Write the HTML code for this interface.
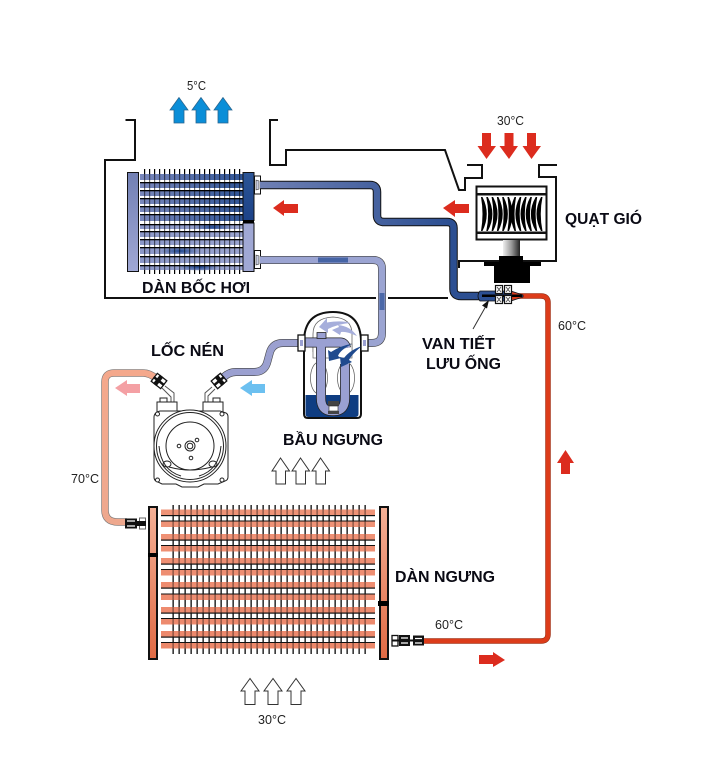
<!DOCTYPE html>
<html>
<head>
<meta charset="utf-8">
<style>
html,body{margin:0;padding:0;background:#fff;width:701px;height:768px;overflow:hidden}
svg{display:block}
text{font-family:"Liberation Sans",sans-serif;fill:#111}
.l{font-size:16px;font-weight:bold;fill:#0a0a14}
.t{font-size:13px;fill:#222}
</style>
</head>
<body>
<svg width="701" height="768" viewBox="0 0 701 768" xmlns="http://www.w3.org/2000/svg">
<defs>
<linearGradient id="pipeA" x1="260" x2="450" y1="0" y2="0" gradientUnits="userSpaceOnUse"><stop offset="0" stop-color="#6f80b4"/><stop offset="1" stop-color="#2c4f92"/></linearGradient>
<linearGradient id="tank1" x1="0" x2="0" y1="0" y2="1"><stop offset="0" stop-color="#7280b4"/><stop offset="1" stop-color="#a0a8d4"/></linearGradient>
<linearGradient id="tank2" x1="0" x2="0" y1="0" y2="1"><stop offset="0" stop-color="#2c5596"/><stop offset="1" stop-color="#1c4288"/></linearGradient>
<linearGradient id="tank3" x1="0" x2="0" y1="0" y2="1"><stop offset="0" stop-color="#f4b096"/><stop offset="1" stop-color="#e06a44"/></linearGradient>
<linearGradient id="rowsE" x1="0" x2="1" y1="0" y2="0"><stop offset="0" stop-color="#7a88bc"/><stop offset="1" stop-color="#2f5496"/></linearGradient>
<linearGradient id="rowsF" x1="0" x2="1" y1="0" y2="0"><stop offset="0" stop-color="#8c98c8"/><stop offset="1" stop-color="#9aa4d0"/></linearGradient>
<linearGradient id="hot" x1="0" x2="0" y1="370" y2="525" gradientUnits="userSpaceOnUse"><stop offset="0" stop-color="#f4a88c"/><stop offset="1" stop-color="#eea88e"/></linearGradient>
<linearGradient id="shaft" x1="0" x2="1" y1="0" y2="0"><stop offset="0" stop-color="#eee"/><stop offset="0.5" stop-color="#999"/><stop offset="1" stop-color="#222"/></linearGradient>
<radialGradient id="spot"><stop offset="0" stop-color="#1c4590"/><stop offset="1" stop-color="#1c4590" stop-opacity="0"/></radialGradient>
<pattern id="finE" x="144" y="0" width="5" height="10" patternUnits="userSpaceOnUse"><rect width="1.200" height="10" fill="#000"/></pattern>
<pattern id="finC" x="172.500" y="0" width="6" height="10" patternUnits="userSpaceOnUse"><rect width="1.200" height="10" fill="#000"/></pattern>
</defs>

<!-- housing -->
<g fill="none" stroke="#111" stroke-width="2">
<path d="M125.500 120H135V160H105V298H376"/>
<path d="M388 298H448"/>
<path d="M278 120H270V165H286V150H445L459 190H465V178H482V165H467"/>
<path d="M557 165H539V177H556V261H459V268"/>
</g>

<!-- evaporator core -->
<rect x="144" y="169" width="97" height="105" fill="url(#finE)"/>
<rect x="140" y="174" width="103" height="48" fill="url(#rowsE)"/>
<rect x="140" y="222" width="103" height="48" fill="url(#rowsF)"/>
<ellipse cx="213" cy="227" rx="20" ry="4" fill="url(#spot)"/>
<ellipse cx="180" cy="251" rx="20" ry="4" fill="url(#spot)"/>
<ellipse cx="199" cy="267" rx="20" ry="4" fill="url(#spot)"/>
<g fill="#fff">
<rect x="140" y="180" width="103" height="2"/><rect x="140" y="188" width="103" height="2"/><rect x="140" y="196" width="103" height="2"/><rect x="140" y="204" width="103" height="2"/><rect x="140" y="212" width="103" height="2"/><rect x="140" y="221" width="103" height="3"/><rect x="140" y="229" width="103" height="2"/><rect x="140" y="237" width="103" height="2"/><rect x="140" y="245" width="103" height="2"/><rect x="140" y="254" width="103" height="2"/><rect x="140" y="263" width="103" height="2"/>
</g>
<g fill="#000">
<rect x="140" y="182" width="103" height="1.300"/><rect x="140" y="190" width="103" height="1.300"/><rect x="140" y="198" width="103" height="1.300"/><rect x="140" y="206" width="103" height="1.300"/><rect x="140" y="214" width="103" height="1.300"/><rect x="140" y="224" width="103" height="1.300"/><rect x="140" y="231" width="103" height="1.300"/><rect x="140" y="239" width="103" height="1.300"/><rect x="140" y="247" width="103" height="1.300"/><rect x="140" y="256" width="103" height="1.300"/><rect x="140" y="265" width="103" height="1.300"/>
</g>
<rect x="144" y="174" width="97" height="96" fill="url(#finE)" opacity=".55"/>
<rect x="127.500" y="172.500" width="11" height="99" fill="url(#tank1)" stroke="#111"/>
<rect x="243" y="172.500" width="11" height="48" fill="url(#tank2)" stroke="#111"/>
<rect x="243" y="223" width="11" height="48.500" fill="#a0a8d4" stroke="#111"/>
<rect x="243" y="220" width="11" height="3.500" fill="#000"/>
<g fill="#fff" stroke="#111"><rect x="254.500" y="176" width="6" height="18"/><rect x="254.500" y="250.500" width="6" height="18"/></g>
<g fill="#c8cce0" stroke="#333" stroke-width=".6"><path d="M256 180l3 1v8l-3 1z"/><path d="M256 255l3 1v8l-3 1z"/></g>

<!-- evaporator outlet pipe -->
<g fill="none">
<path d="M260 185H370Q377 185 377 192V215Q377 222 384 222H447Q453.500 222 453.500 228V289Q453.500 296 461 296H482" stroke="#111" stroke-width="8.500"/>
<path d="M260 185H370Q377 185 377 192V215Q377 222 384 222H447Q453.500 222 453.500 228V289Q453.500 296 461 296H482" stroke="url(#pipeA)" stroke-width="6.500"/>
<path d="M260 260H373Q382 260 382 269V333Q382 343 372 343H364" stroke="#444" stroke-width="8"/>
<path d="M260 260H373Q382 260 382 269V333Q382 343 372 343H364" stroke="#9ba4d2" stroke-width="6.800"/>
<path d="M318 260H348" stroke="#2a4f96" stroke-width="5" opacity=".75"/>
<path d="M382 293V310" stroke="#2a4f96" stroke-width="5" opacity=".7"/>
</g>

<!-- compressor inlet pipe -->
<g fill="none">
<path d="M300 343H283Q273 343 270 352L267 363Q264 372 254 372H236Q228 372 222 379" stroke="#444" stroke-width="8"/>
<path d="M300 343H283Q273 343 270 352L267 363Q264 372 254 372H236Q228 372 222 379" stroke="#9ba0d0" stroke-width="6.800"/>
<!-- hot pipe -->
<path d="M157 379Q150 373 143 373H114Q105 373 105 382V510Q105 522 118 522H127" stroke="#777" stroke-width="7.500"/>
<path d="M157 379Q150 373 143 373H114Q105 373 105 382V510Q105 522 118 522H127" stroke="url(#hot)" stroke-width="6.200"/>
<!-- red pipe -->
<path d="M510 296H541Q548 296 548 303V634Q548 641 541 641H420" stroke="#8a2a12" stroke-width="5.500"/>
<path d="M510 296H541Q548 296 548 303V634Q548 641 541 641H420" stroke="#dc3c1a" stroke-width="4.500"/>
</g>

<!-- compressor -->
<g fill="#fff" stroke="#222" stroke-width="1">
<path d="M165 386L174 393V402M162 388L171 397V402" fill="none" stroke="#555"/>
<path d="M212 387L205 393V402M215 389L208 396V402" fill="none" stroke="#555"/>
<rect x="157" y="402" width="20" height="10"/>
<rect x="203" y="402" width="20" height="10"/>
<rect x="160" y="398" width="7" height="4"/>
<rect x="213" y="398" width="7" height="4"/>
<path d="M160 411H220L226 413Q228 414 228 417V477Q228 480 225 481L218 484L204 484L198 487H182L176 484H162L156 481Q154 480 154 477V417Q154 414 157 412Z"/>
<circle cx="190" cy="446" r="36"/>
<circle cx="190" cy="446" r="33.500"/>
<circle cx="190" cy="446" r="24"/>
<circle cx="190" cy="446" r="5"/><circle cx="190" cy="446" r="2.800"/>
<circle cx="179" cy="446" r="1.800"/><circle cx="197" cy="440" r="1.800"/><circle cx="191" cy="458" r="1.800"/>
<circle cx="157.500" cy="414" r="2"/><circle cx="222" cy="414" r="2"/><circle cx="157.500" cy="480" r="2"/><circle cx="222" cy="480" r="2"/>
<ellipse cx="167" cy="464" rx="4" ry="3"/><ellipse cx="213" cy="464" rx="4" ry="3"/>
<path d="M169 467Q180 470 190 470Q200 470 212 467" fill="none"/>
<path d="M159 446Q161 470 181 476M221 446Q219 470 199 476" fill="none"/>
</g>
<g stroke="#111" stroke-width="1.300">
<g transform="rotate(38 159 381)"><rect x="153" y="376" width="12" height="10" fill="#fff"/><rect x="156.500" y="376" width="3" height="10" fill="#111"/><rect x="153" y="380.500" width="12" height="1.200" fill="#111"/></g>
<g transform="rotate(-40 219 381)"><rect x="213" y="376" width="12" height="10" fill="#fff"/><rect x="218.500" y="376" width="3" height="10" fill="#111"/><rect x="213" y="380.500" width="12" height="1.200" fill="#111"/></g>
</g>

<!-- accumulator -->
<path d="M304 342Q304 312 333 312Q361 312 361 342V414Q361 418 357 418H308Q304 418 304 414Z" fill="#fff" stroke="#111" stroke-width="2"/>
<path d="M313 352V334Q313 318 333 317Q352 318 352 334V352" fill="none" stroke="#666" stroke-width=".8"/>
<rect x="313" y="344" width="39" height="14" fill="#fff" stroke="#666" stroke-width=".7"/>
<ellipse cx="319" cy="378" rx="8.500" ry="16" fill="#fff" stroke="#555" stroke-width=".7"/>
<ellipse cx="346" cy="378" rx="8.500" ry="16" fill="#fff" stroke="#555" stroke-width=".7"/>
<path d="M305.500 395H358.500V414Q358.500 417 355 417H309Q305.500 417 305.500 414Z" fill="#0f3d82"/>
<g fill="none">
<path d="M305 342.500H340Q345 342.500 346 348" stroke="#222" stroke-width="10"/>
<path d="M321 343V398Q321 411 332 411H334Q345 411 345 398V364" stroke="#222" stroke-width="10"/>
<path d="M321 343V398Q321 411 332 411H334Q345 411 345 398V364" stroke="#9aa0d2" stroke-width="8.500"/>
<path d="M305 342.500H340Q345 342.500 346 348" stroke="#9aa0d2" stroke-width="8.500"/>
</g>
<rect x="328" y="401" width="11" height="5" fill="#444"/>
<rect x="329" y="406" width="9" height="5" fill="#fff" stroke="#222" stroke-width=".6"/>
<rect x="328" y="411" width="11" height="3" fill="#444"/>
<rect x="317" y="332.500" width="9" height="6" fill="#9aa0d2" stroke="#222" stroke-width=".8"/>
<path d="M319 327L327 318V322.500Q342 320 350 323Q338 324 328 329V333Z" fill="#a6aedb"/>
<path d="M332 330L339 327L338 325Q350 326 357 336Q346 331 341 332L340 335Z" fill="#a6aedb"/>
<path d="M329 361L328 350L331 352Q342 345 352 344Q340 350 338 356L341 358Z" fill="#1f4a8e"/>
<path d="M341 367L340 357L344 358Q350 350 362 346Q352 354 349 360L352 362Z" fill="#1f4a8e"/>
<g fill="#fff" stroke="#111" stroke-width="1.300">
<rect x="298" y="335" width="7" height="16"/>
<rect x="361" y="335" width="7" height="16"/>
</g>
<rect x="300" y="340" width="3" height="6" fill="#9aa0d2"/>
<rect x="363" y="340" width="3" height="6" fill="#9aa0d2"/>

<!-- fan -->
<rect x="476.500" y="186.500" width="70" height="53" fill="#fff" stroke="#111" stroke-width="2"/>
<rect x="476" y="193" width="71" height="2.500" fill="#111"/>
<rect x="476" y="231.500" width="71" height="2.500" fill="#111"/>
<g fill="#000">
<path d="M481 197Q484 214 481 231H482.500Q491 214 482.500 197Z"/>
<path d="M486.300 197Q490 214 486.300 231H487.800Q497 214 487.800 197Z"/>
<path d="M491.600 197Q495 214 491.600 231H493.100Q502 214 493.100 197Z"/>
<path d="M496.900 197Q500 214 496.900 231H498.400Q507 214 498.400 197Z"/>
<path d="M502.200 197Q505 214 502.200 231H503.700Q512 214 503.700 197Z"/>
<path d="M507.500 197Q510 214 507.500 231H509Q516 214 509 197Z"/>
<path d="M516 197Q513 214 516 231H514.500Q507 214 514.500 197Z"/>
<path d="M521.300 197Q518 214 521.300 231H519.800Q511 214 519.800 197Z"/>
<path d="M526.600 197Q523 214 526.600 231H525.100Q516 214 525.100 197Z"/>
<path d="M531.900 197Q528 214 531.900 231H530.400Q521 214 530.400 197Z"/>
<path d="M537.200 197Q534 214 537.200 231H535.700Q526 214 535.700 197Z"/>
<path d="M542.500 197Q539 214 542.500 231H541Q532 214 541 197Z"/>
</g>
<rect x="503" y="240" width="17" height="16" fill="url(#shaft)"/>
<path d="M499 256H523V262H541V266H530V283H494V266H484V262H499Z" fill="#000"/>

<!-- expansion valve -->
<path d="M480 291H511L523 295V297L511 301H480Q476 296 480 291Z" fill="#2c4f92" stroke="#111" stroke-width=".8"/>
<path d="M512 292L522 295V297L512 300Z" fill="#dc3c1a"/>
<rect x="482" y="294.500" width="40" height="2.500" fill="#000"/>
<g fill="#fff" stroke="#111" stroke-width="1.200">
<rect x="495.500" y="285.500" width="7" height="8"/><rect x="495.500" y="295.500" width="7" height="8"/>
<rect x="504.500" y="285.500" width="7" height="8"/><rect x="504.500" y="295.500" width="7" height="8"/>
</g>
<g stroke="#555" stroke-width="1">
<path d="M497 287l4 5M501 287l-4 5M497 297l4 5M501 297l-4 5M506 287l4 5M510 287l-4 5M506 297l4 5M510 297l-4 5"/>
</g>
<path d="M473 329L486 306" stroke="#333" stroke-width="1"/>
<path d="M489 300L482 305.500L487 308.500Z" fill="#111"/>

<!-- condenser core -->
<rect x="172.500" y="505" width="194" height="149" fill="url(#finC)"/>
<g>
<rect x="161" y="509.500" width="214" height="5.500" fill="#ef9377"/><rect x="161" y="521.500" width="214" height="5.500" fill="#ef9276"/><rect x="161" y="534" width="214" height="5.500" fill="#ef9175"/><rect x="161" y="546" width="214" height="5.500" fill="#ef9074"/><rect x="161" y="558" width="214" height="5.500" fill="#ef8f73"/><rect x="161" y="570" width="214" height="5.500" fill="#ee8e72"/><rect x="161" y="582" width="214" height="5.500" fill="#ee8d71"/><rect x="161" y="594.500" width="214" height="5.500" fill="#ee8c70"/><rect x="161" y="607" width="214" height="5.500" fill="#ee8b6f"/><rect x="161" y="619" width="214" height="5.500" fill="#ed8a6e"/><rect x="161" y="631" width="214" height="5.500" fill="#ed896c"/><rect x="161" y="643" width="214" height="5.500" fill="#ec886a"/>
</g>
<rect x="172.500" y="505" width="194" height="149" fill="url(#finC)" opacity=".5"/>
<g fill="#111">
<rect x="161" y="515" width="214" height="1.200"/><rect x="161" y="520.500" width="214" height="1"/><rect x="161" y="539.500" width="214" height="1.200"/><rect x="161" y="545" width="214" height="1"/><rect x="161" y="563.500" width="214" height="1.200"/><rect x="161" y="569" width="214" height="1"/><rect x="161" y="587.500" width="214" height="1.200"/><rect x="161" y="593.500" width="214" height="1"/><rect x="161" y="612.500" width="214" height="1.200"/><rect x="161" y="618" width="214" height="1"/><rect x="161" y="636.500" width="214" height="1.200"/><rect x="161" y="642" width="214" height="1"/>
</g>
<rect x="149" y="507" width="8" height="152" fill="url(#tank3)" stroke="#111" stroke-width="2"/>
<rect x="148" y="553" width="10" height="4" fill="#000"/>
<rect x="380" y="507" width="8" height="152" fill="url(#tank3)" stroke="#111" stroke-width="2"/>
<rect x="378" y="601" width="11" height="5" fill="#000"/>

<!-- condenser fittings -->
<rect x="125" y="518.500" width="12" height="10" fill="#111"/>
<path d="M127 521H135M127 526H135" stroke="#fff" stroke-width="1.200"/>
<rect x="139.500" y="518" width="6" height="11" fill="#fff" stroke="#666"/>
<rect x="136" y="521" width="10" height="5" fill="#111"/>
<rect x="392" y="635.500" width="6" height="10.500" fill="#fff" stroke="#111" stroke-width="1.300"/>
<rect x="399" y="635" width="11" height="11" fill="#111"/>
<path d="M401 638H408M401 643H408" stroke="#fff" stroke-width="1.300"/>
<rect x="413" y="635.500" width="11" height="10" fill="#111"/>
<path d="M415 638.500H422M415 643H422" stroke="#fff" stroke-width="1.300"/>
<rect x="392" y="639.500" width="31" height="2" fill="#111"/>

<!-- arrows: blue up -->
<g fill="#0a8ed8" stroke="#2a6690" stroke-width=".8">
<path d="M179 97.500L170 110H174V123H184V110H188Z"/>
<path d="M201 97.500L192 110H196V123H206V110H210Z"/>
<path d="M223 97.500L214 110H218V123H228V110H232Z"/>
</g>
<!-- arrows: red -->
<g fill="#dc2c1e">
<path d="M482 133H491V146H496L486.500 159L477.500 146H482Z"/>
<path d="M504.500 133H513.500V146H518L509 159L499.500 146H504.500Z"/>
<path d="M527 133H536V146H541L531.500 159L522.500 146H527Z"/>
<path d="M273 208L284 200V204H298V213H284V216Z"/>
<path d="M443 208L455 200V204H469V213H455V217Z"/>
<path d="M565.500 450L574 463H570V474H561V463H557Z"/>
<path d="M505 660L493 667V664H479V655H493V652Z"/>
</g>
<path d="M115 388L127 380V384H140V393H127V396Z" fill="#f4a0a4"/>
<path d="M240 388L252 380V384H265V393H252V396Z" fill="#6cc0f0"/>
<!-- arrows: white -->
<g fill="#fff" stroke="#333" stroke-width="1">
<path d="M280.500 458L272 471H276V484H285.500V471H289.500Z"/>
<path d="M300.500 458L292 471H296V484H305.500V471H309.500Z"/>
<path d="M320.500 458L312 471H316V484H325.500V471H329.500Z"/>
<path d="M250 678.500L241 691H245V704.500H255V691H259Z"/>
<path d="M273 678.500L264 691H268V704.500H278V691H282Z"/>
<path d="M296 678.500L287 691H291V704.500H301V691H305Z"/>
</g>

<!-- labels -->
<text class="l" x="142" y="293" textLength="108" lengthAdjust="spacingAndGlyphs">DÀN BỐC HƠI</text>
<text class="l" x="565" y="224" textLength="77" lengthAdjust="spacingAndGlyphs">QUẠT GIÓ</text>
<text class="l" x="422" y="349" textLength="73" lengthAdjust="spacingAndGlyphs">VAN TIẾT</text>
<text class="l" x="426" y="369" textLength="75" lengthAdjust="spacingAndGlyphs">LƯU ỐNG</text>
<text class="l" x="151" y="356" textLength="73" lengthAdjust="spacingAndGlyphs">LỐC NÉN</text>
<text class="l" x="283" y="445" textLength="100" lengthAdjust="spacingAndGlyphs">BẦU NGƯNG</text>
<text class="l" x="395" y="582" textLength="100" lengthAdjust="spacingAndGlyphs">DÀN NGƯNG</text>
<text class="t" x="187" y="90" textLength="19" lengthAdjust="spacingAndGlyphs">5°C</text>
<text class="t" x="497" y="125" textLength="27" lengthAdjust="spacingAndGlyphs">30°C</text>
<text class="t" x="558" y="330" textLength="28" lengthAdjust="spacingAndGlyphs">60°C</text>
<text class="t" x="71" y="483" textLength="28" lengthAdjust="spacingAndGlyphs">70°C</text>
<text class="t" x="435" y="629" textLength="28" lengthAdjust="spacingAndGlyphs">60°C</text>
<text class="t" x="258" y="724" textLength="28" lengthAdjust="spacingAndGlyphs">30°C</text>
</svg>
</body>
</html>
